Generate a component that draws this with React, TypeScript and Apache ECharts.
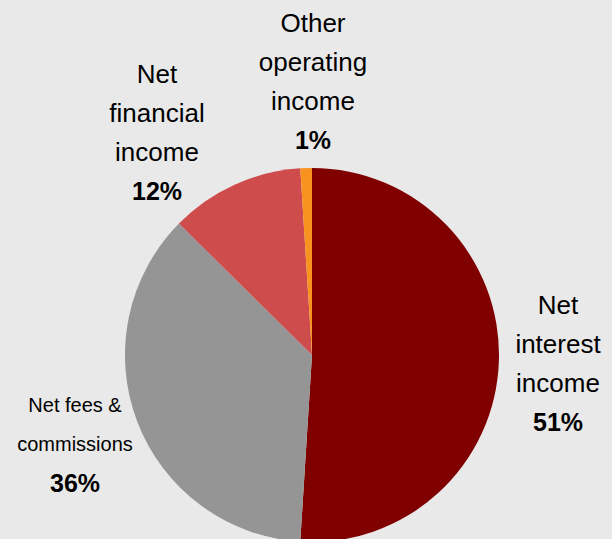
import React, { useEffect, useRef } from "react";
import * as echarts from "echarts";

const categories = ["Net\ninterest\nincome", "Net fees &\ncommissions", "Net\nfinancial\nincome", "Other\noperating\nincome"];
const values = [51, 36.4, 11.6, 1];
const colors = ["#800000", "#959595", "#CF4C4C", "#F7931E"];
const labelPos = [
  [558, 363],
  [75, 444],
  [157, 132],
  [313, 81],
];

export default function App() {
  const ref = useRef<HTMLDivElement>(null);
  useEffect(() => {
    document.body.style.margin = "0";
    const chart = echarts.init(ref.current!, null, { renderer: "svg" });
    const ff = "'Liberation Sans', Arial, sans-serif";
    chart.setOption({
      animation: false,
      backgroundColor: "#E9E9E9",
      series: [
        {
          type: "pie",
          center: [312, 355],
          radius: 187,
          startAngle: 90,
          clockwise: true,
          avoidLabelOverlap: false,
          itemStyle: { borderWidth: 0 },
          labelLine: { show: false },
          label: {
            show: true,
            position: "outside",
            color: "#000",
            fontFamily: ff,
            formatter: (p: any) => {
              const tag = p.dataIndex === 1 ? "s" : "n";
              return `{${tag}|${p.name}}\n{p|${Math.round(p.value)}%}`;
            },
            rich: {
              n: { fontSize: 26, lineHeight: 39, color: "#000", fontFamily: ff, align: "center" },
              s: { fontSize: 20, lineHeight: 39, color: "#000", fontFamily: ff, align: "center" },
              p: { fontSize: 25, lineHeight: 39, fontWeight: "bold", color: "#000", fontFamily: ff, align: "center" },
            },
          },
          labelLayout: (params: any) => {
            const pos = labelPos[params.dataIndex];
            return { x: pos[0], y: pos[1], align: "center", verticalAlign: "middle" };
          },
          data: categories.map((name, i) => ({
            name,
            value: values[i],
            itemStyle: { color: colors[i] },
          })),
        },
      ],
    });
    return () => chart.dispose();
  }, []);
  return <div ref={ref} style={{ width: 612, height: 539 }} />;
}
